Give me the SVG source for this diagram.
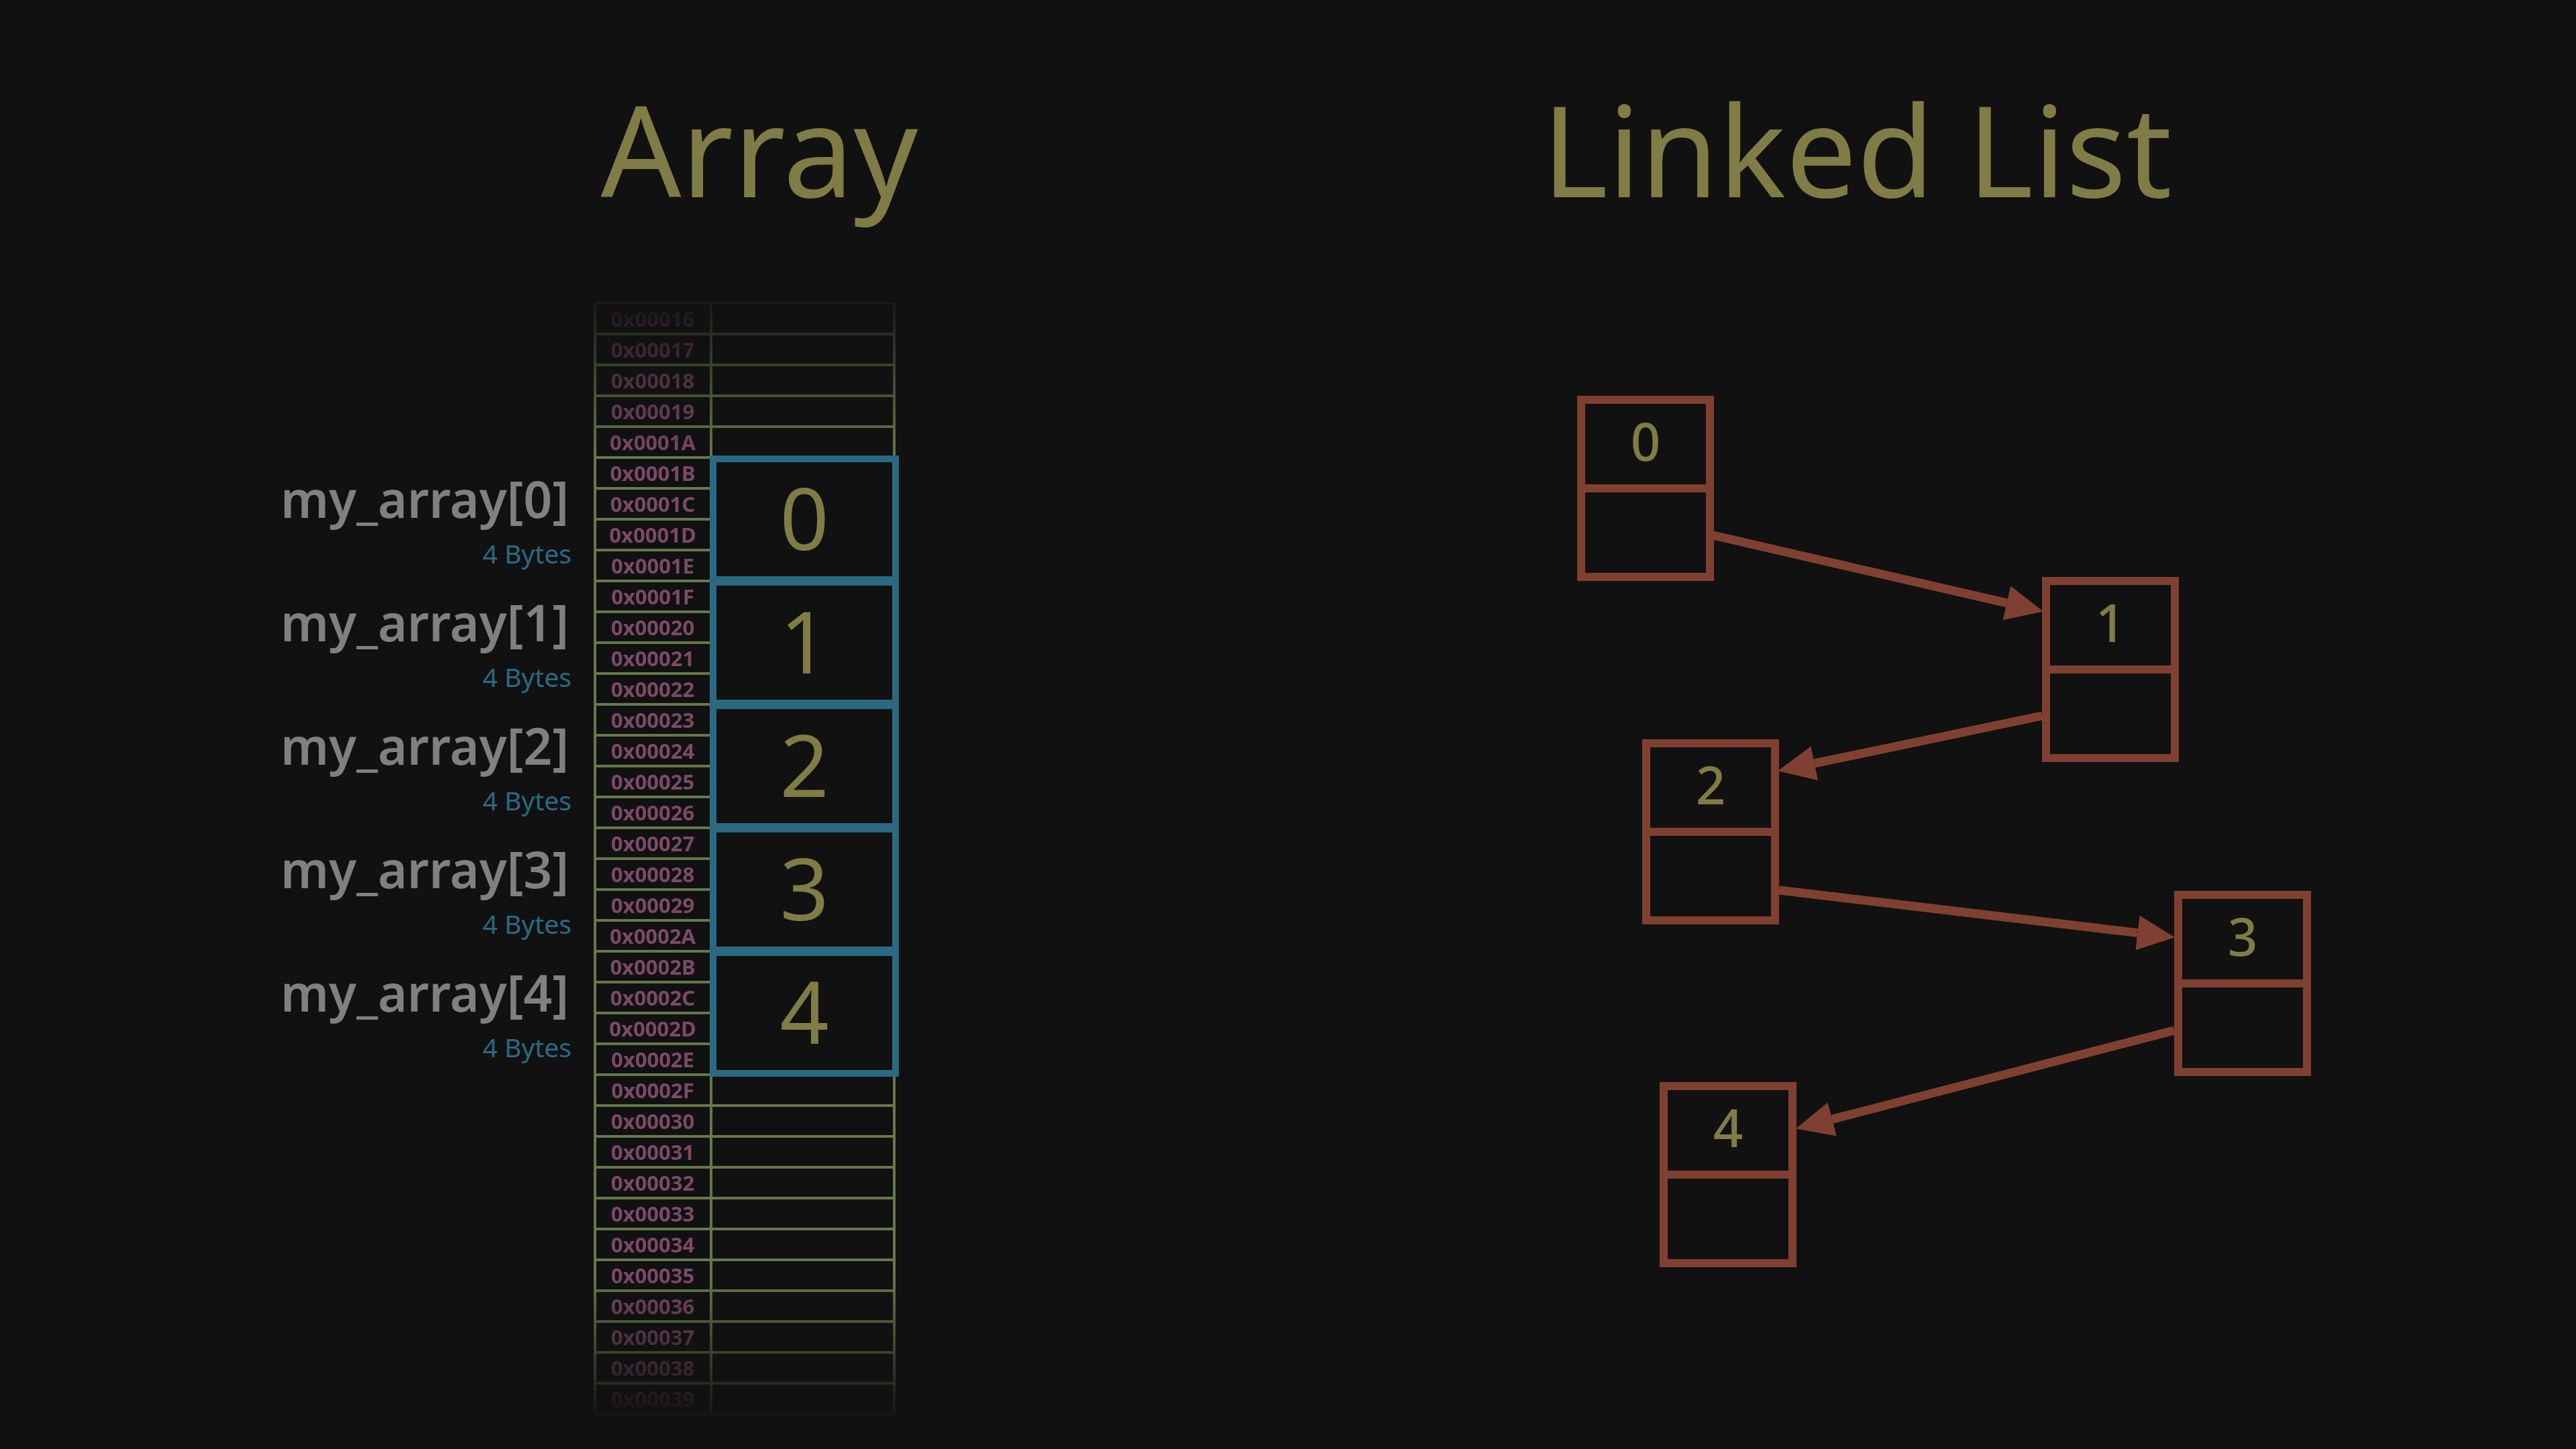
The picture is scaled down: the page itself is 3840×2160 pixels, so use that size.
<svg xmlns="http://www.w3.org/2000/svg" width="3840" height="2160" viewBox="0 0 3840 2160">
<defs>
<style>
.title{font-family:"Noto Sans","Open Sans",sans-serif;font-size:188px;fill:#7f7c46;text-anchor:middle}
.grid{stroke:#66784c;stroke-width:4;fill:none}
.addr{font-family:"Noto Sans","Open Sans",sans-serif;font-size:31px;font-weight:700;fill:#7b4a66;text-anchor:middle}
.cell{fill:#111111;stroke:#2b6983;stroke-width:10}
.val{font-family:"Noto Sans","Open Sans",sans-serif;font-size:128px;fill:#7f7c46;text-anchor:middle}
.name{font-family:"Noto Sans","Open Sans",sans-serif;font-size:75px;font-weight:600;fill:#808080;text-anchor:end}
.bytes{font-family:"Noto Sans","Open Sans",sans-serif;font-size:39px;fill:#2b6983;text-anchor:end}
.node{fill:none;stroke:#7f4032;stroke-width:12}
.nval{font-family:"Noto Sans","Open Sans",sans-serif;font-size:78px;font-weight:500;fill:#7f7c46;text-anchor:middle}
.link{stroke:#7f4032;stroke-width:13;fill:none;marker-end:url(#head)}
</style>
<marker id="head" markerUnits="userSpaceOnUse" markerWidth="56" markerHeight="52" viewBox="0 0 56 52" refX="0" refY="26" orient="auto">
<path d="M0,0 L56,26 L0,52 Z" fill="#7f4032"/>
</marker>
<linearGradient id="fadeGrad" gradientUnits="userSpaceOnUse" x1="0" y1="440" x2="0" y2="2120">
<stop offset="0" stop-color="#fff" stop-opacity="0.08"/>
<stop offset="0.007" stop-color="#fff" stop-opacity="0.1"/>
<stop offset="0.143" stop-color="#fff" stop-opacity="1"/>
<stop offset="0.869" stop-color="#fff" stop-opacity="1"/>
<stop offset="0.994" stop-color="#fff" stop-opacity="0.05"/>
<stop offset="1" stop-color="#fff" stop-opacity="0"/>
</linearGradient>
<mask id="fade" maskUnits="userSpaceOnUse" x="0" y="0" width="3840" height="2160">
<rect x="0" y="0" width="3840" height="2160" fill="url(#fadeGrad)"/>
</mask>
</defs>
<rect x="0" y="0" width="3840" height="2160" fill="#111111"/>

<text class="title" x="1132" y="294">Array</text>
<text class="title" x="2768" y="294">Linked List</text>

<g id="memory-table" mask="url(#fade)">
<path class="grid" d="M887 452V2108M1060 452V2108M1333 452V2108
M887 452H1333M887 498H1333M887 544H1333M887 590H1333M887 636H1333M887 682H1333M887 728H1333M887 774H1333M887 820H1333M887 866H1333
M887 912H1333M887 958H1333M887 1004H1333M887 1050H1333M887 1096H1333M887 1142H1333M887 1188H1333M887 1234H1333M887 1280H1333M887 1326H1333
M887 1372H1333M887 1418H1333M887 1464H1333M887 1510H1333M887 1556H1333M887 1602H1333M887 1648H1333M887 1694H1333M887 1740H1333M887 1786H1333
M887 1832H1333M887 1878H1333M887 1924H1333M887 1970H1333M887 2016H1333M887 2062H1333M887 2108H1333"/>
<g id="addresses">
<text class="addr" x="973" y="487">0x00016</text>
<text class="addr" x="973" y="533">0x00017</text>
<text class="addr" x="973" y="579">0x00018</text>
<text class="addr" x="973" y="625">0x00019</text>
<text class="addr" x="973" y="671">0x0001A</text>
<text class="addr" x="973" y="717">0x0001B</text>
<text class="addr" x="973" y="763">0x0001C</text>
<text class="addr" x="973" y="809">0x0001D</text>
<text class="addr" x="973" y="855">0x0001E</text>
<text class="addr" x="973" y="901">0x0001F</text>
<text class="addr" x="973" y="947">0x00020</text>
<text class="addr" x="973" y="993">0x00021</text>
<text class="addr" x="973" y="1039">0x00022</text>
<text class="addr" x="973" y="1085">0x00023</text>
<text class="addr" x="973" y="1131">0x00024</text>
<text class="addr" x="973" y="1177">0x00025</text>
<text class="addr" x="973" y="1223">0x00026</text>
<text class="addr" x="973" y="1269">0x00027</text>
<text class="addr" x="973" y="1315">0x00028</text>
<text class="addr" x="973" y="1361">0x00029</text>
<text class="addr" x="973" y="1407">0x0002A</text>
<text class="addr" x="973" y="1453">0x0002B</text>
<text class="addr" x="973" y="1499">0x0002C</text>
<text class="addr" x="973" y="1545">0x0002D</text>
<text class="addr" x="973" y="1591">0x0002E</text>
<text class="addr" x="973" y="1637">0x0002F</text>
<text class="addr" x="973" y="1683">0x00030</text>
<text class="addr" x="973" y="1729">0x00031</text>
<text class="addr" x="973" y="1775">0x00032</text>
<text class="addr" x="973" y="1821">0x00033</text>
<text class="addr" x="973" y="1867">0x00034</text>
<text class="addr" x="973" y="1913">0x00035</text>
<text class="addr" x="973" y="1959">0x00036</text>
<text class="addr" x="973" y="2005">0x00037</text>
<text class="addr" x="973" y="2051">0x00038</text>
<text class="addr" x="973" y="2097">0x00039</text>
</g>
</g>

<g id="array-elem-0">
<rect class="cell" x="1063" y="684" width="272" height="180"/>
<text class="val" x="1199" y="820">0</text>
<text class="name" x="848" y="772">my_array[0]</text>
<text class="bytes" x="852" y="840">4 Bytes</text>
</g>
<g id="array-elem-1">
<rect class="cell" x="1063" y="868" width="272" height="180"/>
<text class="val" x="1199" y="1004">1</text>
<text class="name" x="848" y="956">my_array[1]</text>
<text class="bytes" x="852" y="1024">4 Bytes</text>
</g>
<g id="array-elem-2">
<rect class="cell" x="1063" y="1052" width="272" height="180"/>
<text class="val" x="1199" y="1188">2</text>
<text class="name" x="848" y="1140">my_array[2]</text>
<text class="bytes" x="852" y="1208">4 Bytes</text>
</g>
<g id="array-elem-3">
<rect class="cell" x="1063" y="1236" width="272" height="180"/>
<text class="val" x="1199" y="1372">3</text>
<text class="name" x="848" y="1324">my_array[3]</text>
<text class="bytes" x="852" y="1392">4 Bytes</text>
</g>
<g id="array-elem-4">
<rect class="cell" x="1063" y="1420" width="272" height="180"/>
<text class="val" x="1199" y="1556">4</text>
<text class="name" x="848" y="1508">my_array[4]</text>
<text class="bytes" x="852" y="1576">4 Bytes</text>
</g>

<g id="node-0">
<rect class="node" x="2357" y="596" width="192" height="264"/>
<path class="node" d="M2357 728H2549"/>
<text class="nval" x="2453" y="687">0</text>
</g>
<g id="node-1">
<rect class="node" x="3050" y="866" width="192" height="264"/>
<path class="node" d="M3050 998H3242"/>
<text class="nval" x="3146" y="957">1</text>
</g>
<g id="node-2">
<rect class="node" x="2454" y="1108" width="192" height="264"/>
<path class="node" d="M2454 1240H2646"/>
<text class="nval" x="2550" y="1199">2</text>
</g>
<g id="node-3">
<rect class="node" x="3247" y="1334" width="192" height="264"/>
<path class="node" d="M3247 1466H3439"/>
<text class="nval" x="3343" y="1425">3</text>
</g>
<g id="node-4">
<rect class="node" x="2480" y="1619" width="192" height="264"/>
<path class="node" d="M2480 1751H2672"/>
<text class="nval" x="2576" y="1710">4</text>
</g>

<g id="connectors">
<path class="link" d="M2554 798L2991.4 898.9"/>
<path class="link" d="M3044 1067L2704.9 1137.9"/>
<path class="link" d="M2652 1327L3186.4 1390.6"/>
<path class="link" d="M3241 1536L2731.3 1668.4"/>
</g>
</svg>
